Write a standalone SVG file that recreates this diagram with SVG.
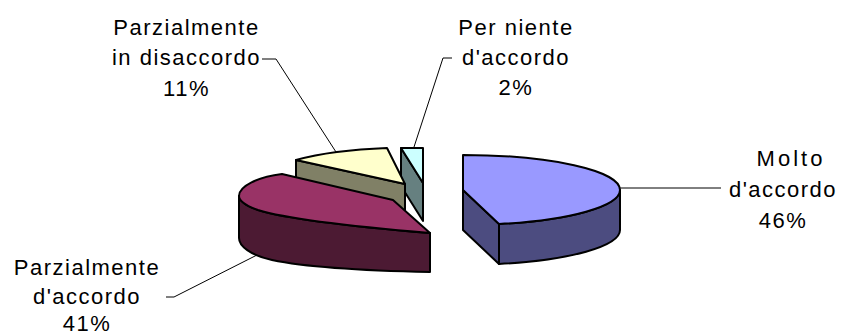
<svg xmlns="http://www.w3.org/2000/svg" width="843" height="336" viewBox="0 0 843 336">
<style>
.e{stroke:#000;stroke-width:2;stroke-linejoin:round}
.t{font-family:"Liberation Sans",Arial,sans-serif;font-size:22px;letter-spacing:1.5px;fill:#000;text-anchor:middle}
.ln{fill:none;stroke:#000;stroke-width:1}
</style>
<rect width="843" height="336" fill="#fff"/>
<g id="slice-per-niente">
<path class="e" d="M401,148 L423,183 L423,221 L401,186 Z" fill="#668080"/>
<path class="e" d="M401,148 L423,148 L423,183 Z" fill="#CCFFFF"/>
</g>
<g id="slice-parz-disaccordo">
<path class="e" d="M405,184 L296,160 L296,198 L405,222 Z" fill="#808066"/>
<path class="e" d="M405,184 L296,160 A151,36 0 0 1 387,148 Z" fill="#FFFFCC"/>
</g>
<g id="slice-parz-accordo">
<path class="e" d="M430,233 C370,228 290,220 258,210 C244,205 239,200 239,196 L239,238 C239,246 250,255 272,260 C310,268 380,271 430,272 Z" fill="#4C1A33"/>
<path class="e" d="M393,200 L430,233 C370,228 290,220 258,210 C244,205 239,200 239,196 C239,186 258,177 282,174 Z" fill="#993366"/>
</g>
<g id="slice-molto">
<path class="e" d="M620,190 A157,35 0 0 1 499,224 L499,264 A157,35 0 0 0 620,230 Z" fill="#4C4C80"/>
<path class="e" d="M463,190 L499,224 L499,264 L463,230 Z" fill="#4C4C80"/>
<path class="e" d="M463,190 L463,155 A157,35 0 0 1 620,190 A157,35 0 0 1 499,224 Z" fill="#9999FF"/>
</g>
<g id="connectors">
<polyline class="ln" points="262,59 276,59 336,152"/>
<polyline class="ln" points="452,58 443,58 414,147"/>
<polyline class="ln" points="620,188 721,188"/>
<polyline class="ln" points="166,297 174,297 257,255"/>
</g>
<g id="label-parz-disaccordo">
<text class="t" x="186.5" y="35">Parzialmente</text>
<text class="t" x="186.5" y="65">in disaccordo</text>
<text class="t" x="186.5" y="96">11%</text>
</g>
<g id="label-per-niente">
<text class="t" x="516" y="35">Per niente</text>
<text class="t" x="516" y="65">d'accordo</text>
<text class="t" x="516" y="95">2%</text>
</g>
<g id="label-molto">
<text class="t" x="791" y="166" style="letter-spacing:3px">Molto</text>
<text class="t" x="783" y="197">d'accordo</text>
<text class="t" x="783" y="228">46%</text>
</g>
<g id="label-parz-accordo">
<text class="t" x="87" y="275">Parzialmente</text>
<text class="t" x="87" y="304">d'accordo</text>
<text class="t" x="87" y="331">41%</text>
</g>
</svg>
